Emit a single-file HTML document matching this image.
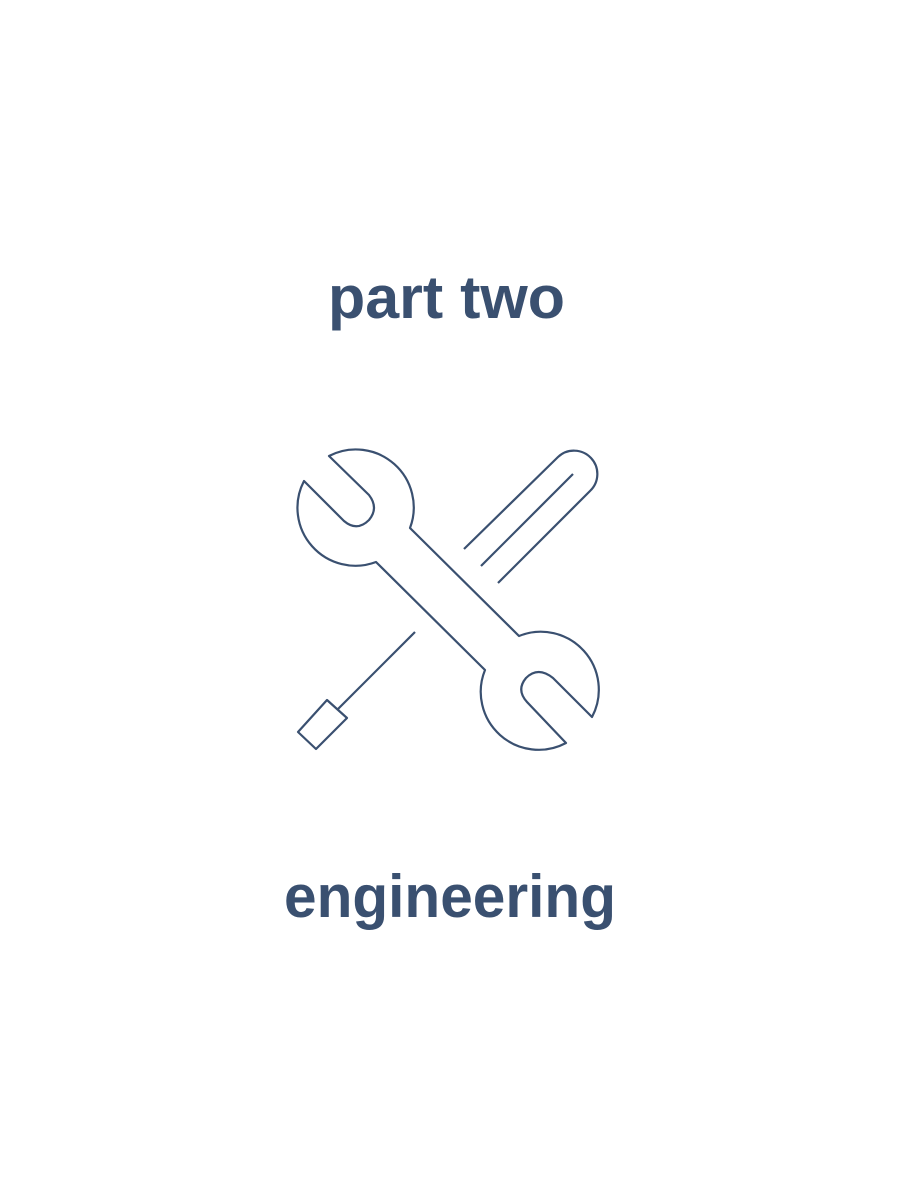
<!DOCTYPE html>
<html><head><meta charset="utf-8"><style>
html,body{margin:0;padding:0;background:#fff;width:900px;height:1200px;overflow:hidden}
svg{display:block}
text{font-family:"Liberation Sans",sans-serif;font-weight:bold;fill:#3a5070}
</style></head><body>
<svg width="900" height="1200" viewBox="0 0 900 1200">
<text x="328" y="318" font-size="60" textLength="237" lengthAdjust="spacingAndGlyphs">part two</text>
<g fill="none" stroke="#3a5070" stroke-width="2.2" stroke-linejoin="round">
<path d="M329,456 A58,58 0 0 1 410,528 L519,636 A58,58 0 0 1 592,717 L553,678 Q538,666 526,678 Q516,690 527,702 L566,743 A58,58 0 0 1 485,670 L376,562 A58,58 0 0 1 304,481 L344,521 Q357,532 369,520 Q379,508 369,495 Z"/>
<path d="M464,549 L558,457 A23,23 0 0 1 590,491 L498,583"/>
<path d="M481,566 L573,474"/>
<path d="M415,632 L338,709"/>
<path d="M298,732 L327,700 L347,718 L316,749 Z"/>
</g>
<text x="284" y="917" font-size="60" textLength="332" lengthAdjust="spacingAndGlyphs">engineering</text>
</svg>
</body></html>
